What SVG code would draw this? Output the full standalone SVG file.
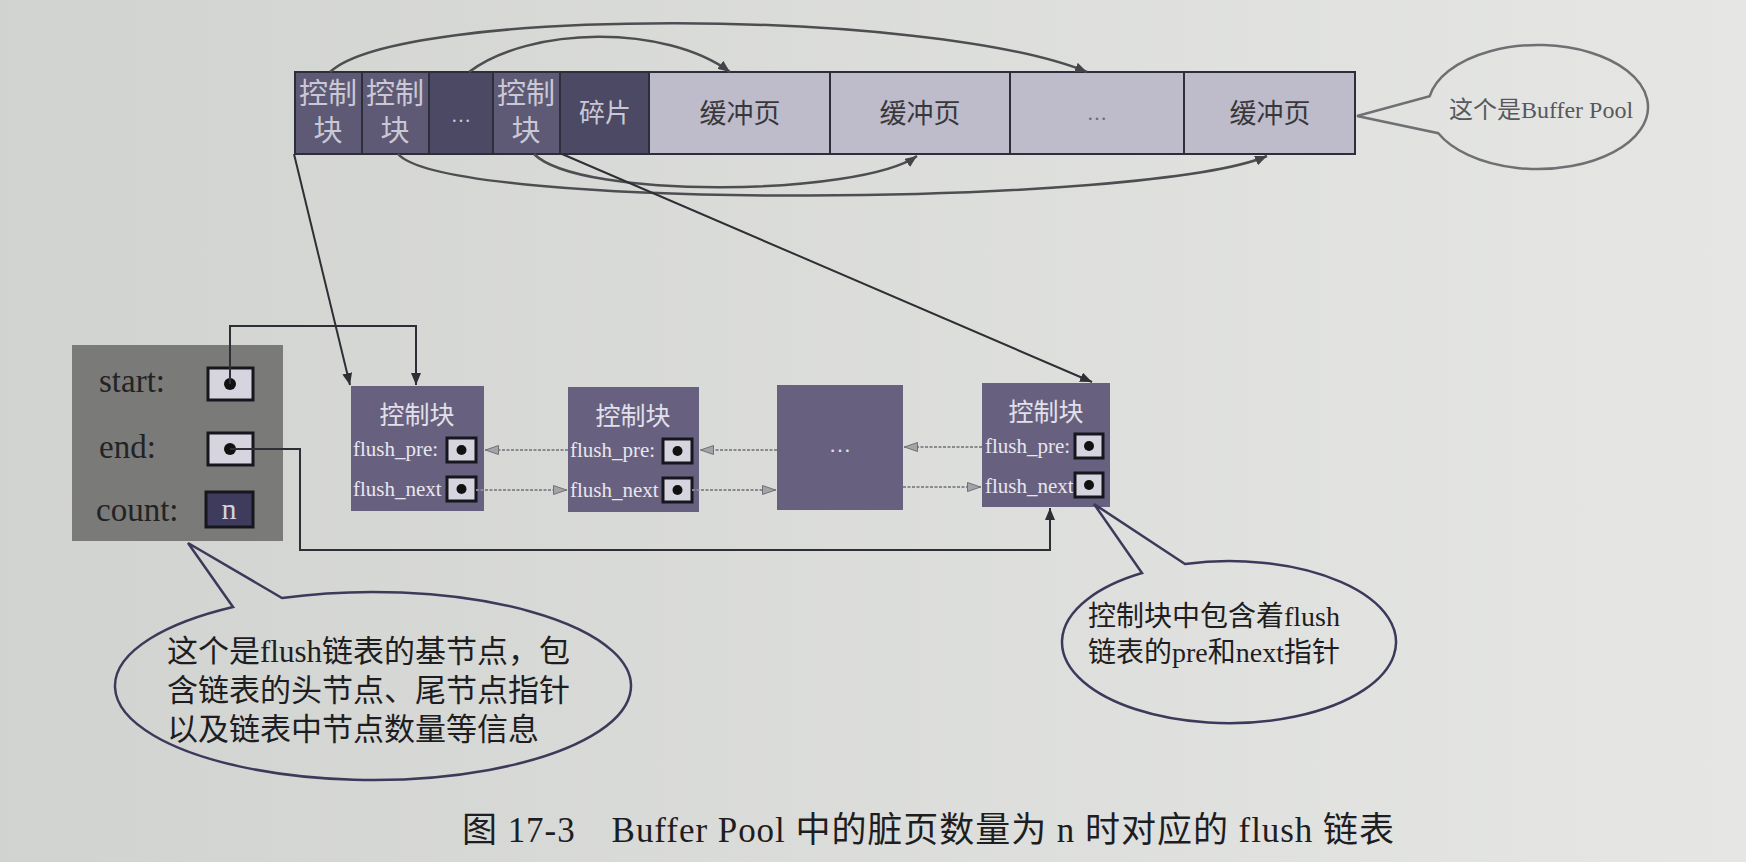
<svg xmlns="http://www.w3.org/2000/svg" width="1746" height="862" viewBox="0 0 1746 862">
<defs>
<linearGradient id="bg" x1="0" y1="0" x2="1" y2="0">
<stop offset="0" stop-color="#d1d3d0"/>
<stop offset="1" stop-color="#e6e7e5"/>
</linearGradient>
<marker id="ah" viewBox="0 0 12 10" refX="12" refY="5" markerWidth="12" markerHeight="10" markerUnits="userSpaceOnUse" orient="auto"><path d="M0,0 L12,5 L0,10 z" fill="#2e2e34"/></marker>
<marker id="aha" viewBox="0 0 12 10" refX="12" refY="5" markerWidth="12" markerHeight="10" markerUnits="userSpaceOnUse" orient="auto"><path d="M0,0 L12,5 L0,10 z" fill="#444448"/></marker>
<marker id="ahg" viewBox="0 0 14 10" refX="14" refY="5" markerWidth="14" markerHeight="10" markerUnits="userSpaceOnUse" orient="auto"><path d="M0.5,0.5 L13.5,5 L0.5,9.5 z" fill="#a4a4a8" stroke="#707074" stroke-width="1"/></marker>
</defs>
<style>
.cn{font-family:"Liberation Serif","Noto Sans CJK SC",serif}
.cell{stroke:#2e2e3a;stroke-width:2}
.ctl{fill:#5e5a75}
.drk{fill:#4c4964}
.page{fill:#bebcca}
.lt{fill:#cac8d4}
.dk{fill:#38383c}
.gy{fill:#6a6a70}
.node{fill:#67617f}
.ptr{fill:#d6d4de;stroke:#16161e;stroke-width:3}
.dot{fill:#111}
.conn{fill:none;stroke:#2e2e34;stroke-width:2}
.arc{fill:none;stroke:#4e4e52;stroke-width:2.5}
.dl{fill:none;stroke:#8a8a8e;stroke-width:2;stroke-dasharray:3 1.5}
.bub{fill:none;stroke:#3c3a5a;stroke-width:2.5}
.bubg{fill:none;stroke:#707074;stroke-width:2.5}
</style>
<rect x="0" y="0" width="1746" height="862" fill="url(#bg)"/>

<g id="buffer-pool">
<rect class="cell ctl" x="295" y="72" width="67" height="82"/>
<rect class="cell ctl" x="362" y="72" width="67" height="82"/>
<rect class="cell drk" x="429" y="72" width="64" height="82"/>
<rect class="cell ctl" x="493" y="72" width="67" height="82"/>
<rect class="cell drk" x="560" y="72" width="89" height="82"/>
<rect class="cell page" x="649" y="72" width="181" height="82"/>
<rect class="cell page" x="830" y="72" width="180" height="82"/>
<rect class="cell page" x="1010" y="72" width="174" height="82"/>
<rect class="cell page" x="1184" y="72" width="171" height="82"/>
<g class="cn lt" font-size="29" text-anchor="middle">
<text x="328" y="104">控制</text><text x="328" y="141">块</text>
<text x="395" y="104">控制</text><text x="395" y="141">块</text>
<text x="526" y="104">控制</text><text x="526" y="141">块</text>
<text x="461" y="122" font-size="20">…</text>
<text x="605" y="122" font-size="26">碎片</text>
</g>
<g class="cn dk" font-size="27" text-anchor="middle">
<text x="740" y="123">缓冲页</text>
<text x="920" y="123">缓冲页</text>
<text x="1270" y="123">缓冲页</text>
<text x="1097" y="120" font-size="20" class="gy">…</text>
</g>
</g>

<g id="bubble-buffer-pool">
<path class="bubg" d="M1429.7,96.2 A110 62 0 1 1 1438.3,133.2 L1357,116 Z"/>
<text class="cn" x="1541" y="118" font-size="24" fill="#58585c" text-anchor="middle">这个是Buffer Pool</text>
</g>

<g id="base-node">
<rect x="72" y="345" width="211" height="196" fill="#7a7a78"/>
<g class="cn" font-size="33" fill="#232326">
<text x="99" y="392">start:</text>
<text x="99" y="458">end:</text>
<text x="96" y="521">count:</text>
</g>
<rect class="ptr" x="208" y="368" width="45" height="32"/>
<circle class="dot" cx="230" cy="384" r="6"/>
<rect class="ptr" x="208" y="433" width="45" height="32"/>
<circle class="dot" cx="230" cy="449" r="6"/>
<rect x="206" y="492" width="47" height="35" fill="#3f3b5c" stroke="#16161e" stroke-width="3"/>
<text class="cn" x="229" y="519" font-size="30" fill="#d4d2dc" text-anchor="middle">n</text>
</g>

<g id="node-1">
<rect class="node" x="351" y="386" width="133" height="125"/>
<text class="cn" x="417" y="424" font-size="25" fill="#e2e0ea" text-anchor="middle">控制块</text>
<text class="cn" x="353" y="456" font-size="21" fill="#e8e6ee">flush_pre:</text>
<text class="cn" x="353" y="496" font-size="21" fill="#e8e6ee">flush_next</text>
<rect class="ptr" x="447" y="438" width="29" height="24"/>
<circle class="dot" cx="461.5" cy="450" r="5"/>
<rect class="ptr" x="447" y="477" width="29" height="24"/>
<circle class="dot" cx="461.5" cy="489" r="5"/>
</g>

<g id="node-2">
<rect class="node" x="568" y="387" width="131" height="125"/>
<text class="cn" x="633" y="425" font-size="25" fill="#e2e0ea" text-anchor="middle">控制块</text>
<text class="cn" x="570" y="457" font-size="21" fill="#e8e6ee">flush_pre:</text>
<text class="cn" x="570" y="497" font-size="21" fill="#e8e6ee">flush_next</text>
<rect class="ptr" x="663" y="439" width="29" height="24"/>
<circle class="dot" cx="677.5" cy="451" r="5"/>
<rect class="ptr" x="663" y="478" width="29" height="24"/>
<circle class="dot" cx="677.5" cy="490" r="5"/>
</g>

<g id="node-3">
<rect class="node" x="777" y="385" width="126" height="125" fill="#625c7a"/>
<text class="cn" x="840" y="452" font-size="22" fill="#e2e0ea" text-anchor="middle">…</text>
</g>

<g id="node-4">
<rect class="node" x="982" y="383" width="128" height="124"/>
<text class="cn" x="1046" y="421" font-size="25" fill="#e2e0ea" text-anchor="middle">控制块</text>
<text class="cn" x="985" y="453" font-size="21" fill="#e8e6ee">flush_pre:</text>
<text class="cn" x="985" y="493" font-size="21" fill="#e8e6ee">flush_next</text>
<rect class="ptr" x="1075" y="434" width="28" height="24"/>
<circle class="dot" cx="1089" cy="446" r="5"/>
<rect class="ptr" x="1075" y="473" width="28" height="24"/>
<circle class="dot" cx="1089" cy="485" r="5"/>
</g>

<g id="connectors">
<path class="arc" d="M330,72 C400,6 930,8 1087,72" marker-end="url(#aha)"/>
<path class="arc" d="M469,72 C530,26 665,24 730,72" marker-end="url(#aha)"/>
<path class="arc" d="M398,154 C450,212 1150,206 1267,156" marker-end="url(#aha)"/>
<path class="arc" d="M534,154 C580,200 860,196 917,156" marker-end="url(#aha)"/>
<path class="conn" d="M294,154 L350,385" marker-end="url(#ah)"/>
<path class="conn" d="M562,154 L1092,382" marker-end="url(#ah)"/>
<path class="conn" d="M230,384 L230,326 L416,326 L416,385" marker-end="url(#ah)"/>
<path class="conn" d="M230,449 L300,449 L300,550 L1050,550 L1050,508" marker-end="url(#ah)"/>
<path class="dl" d="M568,450 L485,450" marker-end="url(#ahg)"/>
<path class="dl" d="M476,490 L567,490" marker-end="url(#ahg)"/>
<path class="dl" d="M777,450 L700,450" marker-end="url(#ahg)"/>
<path class="dl" d="M692,490 L776,490" marker-end="url(#ahg)"/>
<path class="dl" d="M982,447 L904,447" marker-end="url(#ahg)"/>
<path class="dl" d="M903,487 L981,487" marker-end="url(#ahg)"/>
</g>

<g id="bubble-base">
<path class="bub" d="M282,598 A258 94 0 1 1 233,607 L188,543 Z"/>
<g class="cn" font-size="31" fill="#1e1e22">
<text x="167" y="662">这个是flush链表的基节点，包</text>
<text x="167" y="701">含链表的头节点、尾节点指针</text>
<text x="167" y="740">以及链表中节点数量等信息</text>
</g>
</g>

<g id="bubble-control">
<path class="bub" d="M1142,573 A167 81 0 1 0 1185,564 L1094,504 Z"/>
<g class="cn" font-size="28" fill="#1e1e22">
<text x="1088" y="626">控制块中包含着flush</text>
<text x="1088" y="662">链表的pre和next指针</text>
</g>
</g>

<text id="caption" class="cn" x="462" y="842" font-size="35" fill="#1e1e22" xml:space="preserve" textLength="932" lengthAdjust="spacing">图 17-3　Buffer Pool 中的脏页数量为 n 时对应的 flush 链表</text>
</svg>
